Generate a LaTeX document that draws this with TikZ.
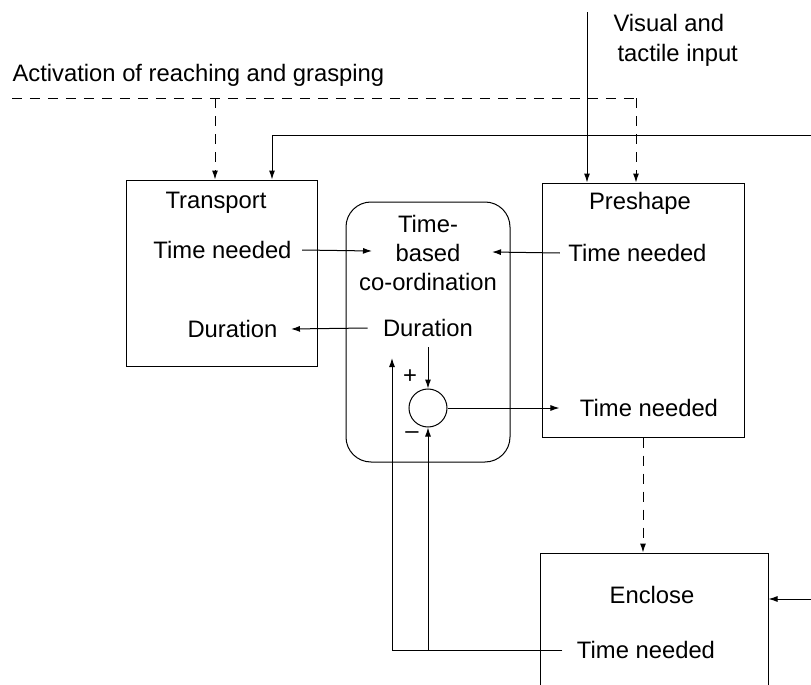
\documentclass[tikz,border=0pt]{standalone}
\usepackage{fontspec}
\setmainfont{Liberation Sans}
\usetikzlibrary{arrows.meta,calc}
\begin{document}
\begin{tikzpicture}[x=0.5pt,y=-0.5pt,
  line width=0.5pt,
  every node/.style={font=\fontsize{11.9}{14.5}\selectfont},
  lbl/.style={inner sep=0pt},
  blk/.style={draw, inner sep=0pt},
  arr/.style={-{Latex[length=4.5pt,width=3pt]}},
  dsh/.style={dash pattern=on 5pt off 4pt},
]
\useasboundingbox (0,0) rectangle (811,685);

% boxes
\node[blk, minimum width=95.5pt, minimum height=93pt] (tra) at (221.5,273) {};
\node[blk, rounded corners=12.5pt, minimum width=82pt, minimum height=130pt] (coord) at (428,332) {};
\node[blk, minimum width=101pt, minimum height=127pt] (pre) at (643,310) {};
\node[blk, minimum width=114pt, minimum height=93.5pt] (enc) at (654,646.5) {};
\node[draw, circle, minimum size=19pt, inner sep=0pt] (circ) at (428,408) {};

% texts
\node[lbl, anchor=west] (act) at (12,75) {Activation of reaching and grasping};
\node[lbl, anchor=west, align=left, font=\fontsize{11.9}{15}\selectfont] (vis) at (613,40) {Visual and\\\hspace*{2pt}tactile input};
\node[lbl] (traL) at (216,203) {Transport};
\node[lbl] (tTN) at (222.5,250) {Time needed};
\node[lbl] (tDur) at (232.5,329) {Duration};
\node[lbl, align=center] (cText) at (428,253) {Time-\\based\\co-ordination};
\node[lbl] (cDur) at (428,328) {Duration};
\node[lbl] (plus) at (410,377) {+};
\node[lbl] (minus) at (412,435) {\textendash};
\node[lbl] (preL) at (640,203) {Preshape};
\node[lbl] (pTN) at (637.5,253) {Time needed};
\node[lbl] (pTN2) at (649,408) {Time needed};
\node[lbl] (encL) at (652,595) {Enclose};
\node[lbl] (eTN) at (646,650) {Time needed};

% helper coordinates
\coordinate (actStart) at (12,98);
\coordinate (actCorner) at (636,98);
\coordinate (actBranch) at (215,98);
\coordinate (visTop) at (587,12);
\coordinate (fbR) at (815,135);
\coordinate (fbL) at (272,135);
\coordinate (pdx) at (643,0);
\coordinate (encR) at (815,599);
\coordinate (fbX1) at (392,358);
\coordinate (basedL) at (372,251);
\coordinate (basedR) at (492,252);

% connectors
\draw[dsh] (actStart) -- (actCorner);
\draw[dsh, arr] (actCorner) -- (actCorner |- pre.north);
\draw[dsh, arr] (actBranch) -- (actBranch |- tra.north);
\draw[arr] (visTop) -- (visTop |- pre.north);
\draw[arr] (fbR) -- (fbL) -- (fbL |- tra.north);
\draw[arr] ([xshift=5pt]tTN.east) -- (basedL);
\draw[arr] ([xshift=-4pt]pTN.west) -- (basedR);
\draw[arr] ([xshift=-7.5pt]cDur.west) -- ([xshift=6.5pt]tDur.east);
\draw[arr] ([yshift=-5pt]cDur.south) -- (circ.north);
\draw[arr] (circ.east) -- ([xshift=-10pt]pTN2.west);
\draw[dsh, arr] (pre.south -| pdx) -- (enc.north -| pdx);
\draw[arr] (encR) -- (encR -| enc.east);
\draw[arr] ([xshift=-7pt]eTN.west) -| (fbX1);
\draw[arr] (circ.south |- eTN.west) -- (circ.south);
\end{tikzpicture}
\end{document}
